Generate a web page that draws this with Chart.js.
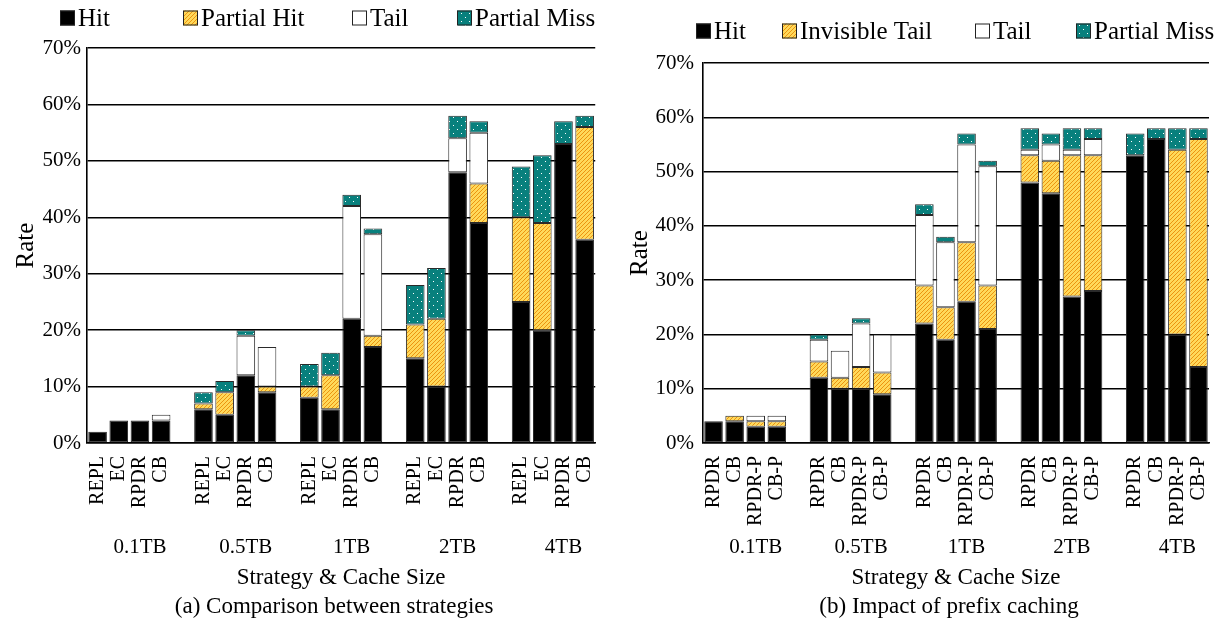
<!DOCTYPE html>
<html>
<head>
<meta charset="utf-8">
<script src="https://cdn.jsdelivr.net/npm/chart.js@4.4.1/dist/chart.umd.min.js"></script>
<style>
  html, body { margin: 0; padding: 0; background: #fff; }
  #wrap { position: relative; width: 1228px; height: 628px; }
  .panel { position: absolute; top: 0; width: 614px; height: 628px; }
</style>
</head>
<body>
<div id="wrap">
  <div class="panel" style="left:0"><canvas id="chartA" width="614" height="628"></canvas></div>
  <div class="panel" style="left:614px"><canvas id="chartB" width="614" height="628"></canvas></div>
</div>
<script>
// cache sizes and strategies
const groups = ['0.1TB', '0.5TB', '1TB', '2TB', '4TB'];
const strategiesA = ['REPL', 'EC', 'RPDR', 'CB'];
const strategiesB = ['RPDR', 'CB', 'RPDR-P', 'CB-P'];

// (a) rates in %, per strategy within each cache size
const hitA         = [2, 4, 4, 4,  6, 5, 12, 9,  8, 6, 22, 17,  15, 10, 48, 39,  25, 20, 53, 36];
const partialHitA  = [0, 0, 0, 0,  1, 4, 0, 1,   2, 6, 0, 2,    6, 12, 0, 7,    15, 19, 0, 20];
const tailA        = [0, 0, 0, 1,  0, 0, 7, 7,   0, 0, 20, 18,  0, 0, 6, 9,     0, 0, 0, 0];
const partialMissA = [0, 0, 0, 0,  2, 2, 1, 0,   4, 4, 2, 1,    7, 9, 4, 2,     9, 12, 4, 2];

// (b) rates in %, with and without prefix caching
const hitB           = [4, 4, 3, 3,  12, 10, 10, 9,  22, 19, 26, 21,  48, 46, 27, 28,  53, 56, 20, 14];
const invisibleTailB = [0, 1, 1, 1,  3, 2, 4, 4,     7, 6, 11, 8,     5, 6, 26, 25,    0, 0, 34, 42];
const tailB          = [0, 0, 1, 1,  4, 5, 8, 7,     13, 12, 18, 22,  1, 3, 1, 3,      0, 0, 0, 0];
const partialMissB   = [0, 0, 0, 0,  1, 0, 1, 0,     2, 1, 2, 1,      4, 2, 4, 2,      4, 2, 4, 2];

const yTickStep = 10;
const yMax = 70;

const SERIF = "'Liberation Serif', 'DejaVu Serif', serif";

// insert an empty slot between cache-size groups
function spread(values, per) {
  const out = [];
  groups.forEach((g, i) => {
    for (let k = 0; k < per; k++) {
      const v = values[i * per + k];
      out.push(v === 0 ? null : v);
    }
    if (i < groups.length - 1) out.push(null);
  });
  return out;
}
function spreadLabels(names) {
  const out = [];
  groups.forEach((g, i) => {
    names.forEach(n => out.push(n));
    if (i < groups.length - 1) out.push('');
  });
  return out;
}

function hatch(ctx) {
  const c = document.createElement('canvas');
  c.width = 4; c.height = 4;
  const g = c.getContext('2d');
  g.fillStyle = '#ffd95a';
  g.fillRect(0, 0, 4, 4);
  g.strokeStyle = '#ec9410';
  g.lineWidth = 1;
  g.beginPath();
  g.moveTo(-1, 5); g.lineTo(5, -1);
  g.moveTo(-1, 1); g.lineTo(1, -1);
  g.moveTo(3, 5); g.lineTo(5, 3);
  g.stroke();
  return ctx.createPattern(c, 'repeat');
}
function dots(ctx) {
  const c = document.createElement('canvas');
  c.width = 8; c.height = 8;
  const g = c.getContext('2d');
  g.fillStyle = '#08807d';
  g.fillRect(0, 0, 8, 8);
  g.fillStyle = '#ffffff';
  g.fillRect(1, 1, 1, 1);
  g.fillRect(5, 5, 1, 1);
  return ctx.createPattern(c, 'repeat');
}

// legend, group names and caption drawn around the plot
const figureText = {
  id: 'figureText',
  afterDraw(chart, args, opts) {
    const ctx = chart.ctx;
    const x = chart.scales.x;
    ctx.save();
    ctx.fillStyle = '#000';
    ctx.textBaseline = 'middle';

    // legend
    ctx.font = '25px ' + SERIF;
    ctx.textAlign = 'left';
    chart.data.datasets.forEach((ds, i) => {
      const lx = opts.legendX[i];
      const ly = opts.legendY;
      ctx.fillStyle = ds.backgroundColor;
      ctx.fillRect(lx, ly - 7.5, 15, 15);
      ctx.strokeStyle = '#222';
      ctx.lineWidth = 1;
      ctx.strokeRect(lx + 0.5, ly - 7, 14, 14);
      ctx.fillStyle = '#000';
      ctx.fillText(ds.label, lx + 18, ly + 1);
    });

    // cache size under each group
    ctx.font = '21px ' + SERIF;
    ctx.textAlign = 'center';
    groups.forEach((g, i) => {
      ctx.fillText(g, x.getPixelForValue(i * 5 + 2), 547);
    });

    // caption
    ctx.font = '23px ' + SERIF;
    ctx.fillText(opts.caption, (chart.chartArea.left + chart.chartArea.right) / 2 - 7, 607);
    ctx.restore();
  }
};

function makeChart(id, names, series, cfg) {
  const ctx = document.getElementById(id).getContext('2d');
  return new Chart(ctx, {
    type: 'bar',
    data: {
      labels: spreadLabels(names),
      datasets: series.map(s => ({
        label: s.label,
        data: spread(s.data, names.length),
        backgroundColor: s.color,
        borderColor: '#2a2a2a',
        borderWidth: 1,
        borderSkipped: false,
        barPercentage: 0.88,
        categoryPercentage: 1.0,
        stack: 'rate'
      }))
    },
    options: {
      responsive: false,
      animation: false,
      layout: { padding: { top: cfg.top, right: cfg.right, bottom: 33, left: 0 } },
      plugins: {
        legend: { display: false },
        tooltip: { enabled: false },
        figureText: { legendX: cfg.legendX, legendY: cfg.legendY, caption: cfg.caption }
      },
      scales: {
        x: {
          stacked: true,
          grid: { display: false },
          border: { display: true, color: '#000', width: 1.6 },
          ticks: {
            autoSkip: false, minRotation: 90, maxRotation: 90, padding: 5,
            color: '#000', font: { family: SERIF, size: 20 }
          },
          title: {
            display: true, text: 'Strategy & Cache Size', color: '#000',
            font: { family: SERIF, size: 23 }, padding: { top: 0, bottom: 3 }
          },
          afterFit: s => { s.height = 152; }
        },
        y: {
          stacked: true,
          min: 0,
          max: yMax,
          ticks: {
            stepSize: yTickStep, callback: v => v + '%', padding: cfg.tickPad,
            color: '#000', font: { family: SERIF, size: 21 }
          },
          grid: { color: '#000', lineWidth: 1.5, drawTicks: false },
          border: { display: true, color: '#000', width: 1.6 },
          title: {
            display: true, text: 'Rate', color: '#000',
            font: { family: SERIF, size: 25 }, padding: { top: 11, bottom: 0 }
          },
          afterFit: s => { s.width = cfg.axisWidth; }
        }
      }
    },
    plugins: [figureText]
  });
}

const ctxA = document.getElementById('chartA').getContext('2d');
const ctxB = document.getElementById('chartB').getContext('2d');

makeChart('chartA', strategiesA, [
  { label: 'Hit', data: hitA, color: '#000000' },
  { label: 'Partial Hit', data: partialHitA, color: hatch(ctxA) },
  { label: 'Tail', data: tailA, color: '#ffffff' },
  { label: 'Partial Miss', data: partialMissA, color: dots(ctxA) }
], {
  top: 48, right: 17, axisWidth: 87, tickPad: 6,
  legendX: [60, 183, 352, 457], legendY: 18,
  caption: '(a) Comparison between strategies'
});

makeChart('chartB', strategiesB, [
  { label: 'Hit', data: hitB, color: '#000000' },
  { label: 'Invisible Tail', data: invisibleTailB, color: hatch(ctxB) },
  { label: 'Tail', data: tailB, color: '#ffffff' },
  { label: 'Partial Miss', data: partialMissB, color: dots(ctxB) }
], {
  top: 63, right: 19, axisWidth: 89, tickPad: 9,
  legendX: [82, 168, 361, 462], legendY: 31,
  caption: '(b) Impact of prefix caching'
});
</script>
</body>
</html>
